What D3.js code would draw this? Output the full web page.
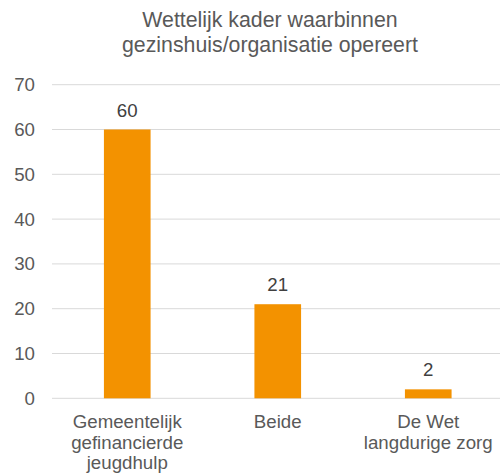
<!DOCTYPE html>
<html>
<head>
<meta charset="utf-8">
<script src="https://cdn.jsdelivr.net/npm/d3@7"></script>
<style>
  body { margin: 0; background: #fff; }
  text { font-family: "Liberation Sans", Arial, sans-serif; fill: #595959; }
</style>
</head>
<body>
<div id="chart"></div>
<script>
const categories = [
  ["Gemeentelijk", "gefinancierde", "jeugdhulp"],
  ["Beide"],
  ["De Wet", "langdurige zorg"]
];
const values = [60, 21, 2];
const yTicks = [0, 10, 20, 30, 40, 50, 60, 70];
const titleLines = ["Wettelijk kader waarbinnen", "gezinshuis/organisatie opereert"];

const width = 500, height = 475;
const plotLeft = 52, plotRight = 503.5, plotTop = 84.7, plotBottom = 398.3;

const svg = d3.select("#chart")
  .append("svg")
  .attr("width", width)
  .attr("height", height);

const x = d3.scaleBand()
  .domain(d3.range(values.length))
  .range([plotLeft, plotRight])
  .paddingInner(0.69)
  .paddingOuter(0.345);

const y = d3.scaleLinear()
  .domain([0, 70])
  .range([plotBottom, plotTop]);

// gridlines
svg.append("g")
  .selectAll("line")
  .data(yTicks)
  .enter()
  .append("line")
  .attr("x1", plotLeft)
  .attr("x2", width)
  .attr("y1", d => y(d))
  .attr("y2", d => y(d))
  .attr("stroke", "#d9d9d9")
  .attr("stroke-width", 1);

// y tick labels
svg.append("g")
  .selectAll("text")
  .data(yTicks)
  .enter()
  .append("text")
  .attr("x", 35)
  .attr("y", d => y(d))
  .attr("dy", "0.35em")
  .attr("text-anchor", "end")
  .style("font-size", "18.7px")
  .text(d => d);

// bars
svg.append("g")
  .selectAll("rect")
  .data(values)
  .enter()
  .append("rect")
  .attr("x", (d, i) => x(i))
  .attr("y", d => y(d))
  .attr("width", x.bandwidth())
  .attr("height", d => y(0) - y(d))
  .attr("fill", "#f39200");

// value labels
svg.append("g")
  .selectAll("text")
  .data(values)
  .enter()
  .append("text")
  .attr("x", (d, i) => x(i) + x.bandwidth() / 2)
  .attr("y", d => y(d) - 13)
  .attr("text-anchor", "middle")
  .style("font-size", "18.7px")
  .style("fill", "#404040")
  .text(d => d);

// category labels
const cat = svg.append("g")
  .selectAll("text")
  .data(categories)
  .enter()
  .append("text")
  .attr("text-anchor", "middle")
  .style("font-size", "18.7px");

cat.selectAll("tspan")
  .data((d, i) => d.map(line => ({ line, i })))
  .enter()
  .append("tspan")
  .attr("x", d => x(d.i) + x.bandwidth() / 2)
  .attr("y", (d, j) => 428 + j * 20.5)
  .text(d => d.line);

// title
svg.append("text")
  .attr("text-anchor", "middle")
  .style("font-size", "21.3px")
  .selectAll("tspan")
  .data(titleLines)
  .enter()
  .append("tspan")
  .attr("x", 270)
  .attr("y", (d, i) => 27 + i * 25)
  .text(d => d);
</script>
</body>
</html>
